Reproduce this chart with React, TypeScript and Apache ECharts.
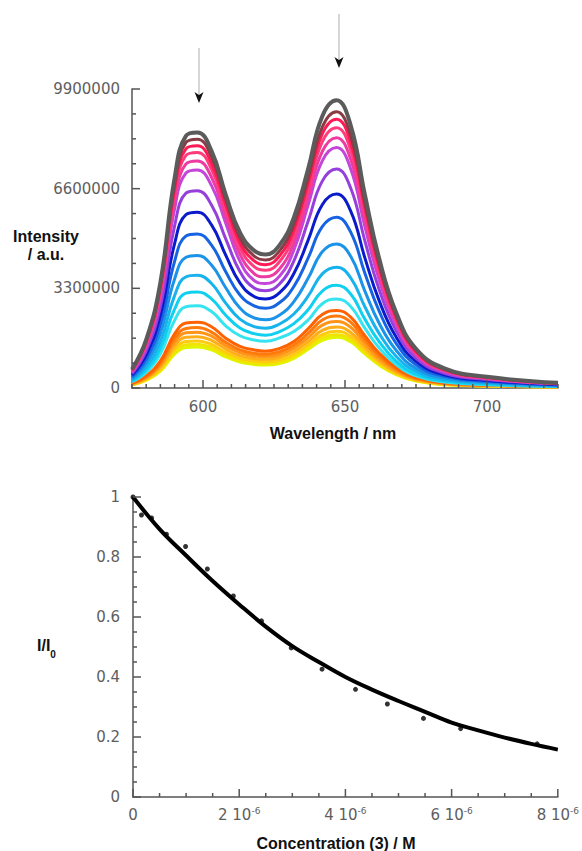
import React, { useEffect, useRef } from "react";
import * as echarts from "echarts";

// ---------- Top chart: emission spectra (intensity in millions, a.u.) ----------
const WAVELENGTHS = [575, 580, 585, 590, 594, 598, 603, 608, 613, 618, 622, 627, 632, 637, 642, 647, 652, 657, 662, 668, 675, 685, 700, 725];
const X_MAJOR = [600, 650, 700];

const S01 = [0.62, 1.6, 3.5, 6.95, 8.35, 8.46, 7.85, 6.4, 5.15, 4.55, 4.42, 4.74, 5.65, 7.25, 9.0, 9.53, 8.7, 6.4, 4.3, 2.5, 1.3, 0.65, 0.37, 0.17];
const S02 = [0.6, 1.56, 3.41, 6.77, 8.13, 8.24, 7.65, 6.24, 4.98, 4.37, 4.24, 4.55, 5.42, 6.96, 8.64, 9.15, 8.35, 6.14, 4.13, 2.4, 1.25, 0.62, 0.36, 0.16];
const S03 = [0.59, 1.52, 3.32, 6.59, 7.92, 8.02, 7.44, 6.07, 4.81, 4.21, 4.08, 4.38, 5.25, 6.77, 8.41, 8.9, 8.13, 5.98, 4.02, 2.34, 1.21, 0.61, 0.35, 0.16];
const S04 = [0.57, 1.48, 3.23, 6.41, 7.7, 7.8, 7.24, 5.91, 4.64, 4.02, 3.9, 4.19, 5.05, 6.56, 8.15, 8.62, 7.87, 5.79, 3.89, 2.26, 1.18, 0.59, 0.33, 0.15];
const S05 = [0.55, 1.42, 3.11, 6.18, 7.42, 7.52, 6.98, 5.69, 4.43, 3.79, 3.68, 3.95, 4.81, 6.31, 7.83, 8.29, 7.57, 5.57, 3.74, 2.18, 1.13, 0.57, 0.32, 0.15];
const S06 = [0.53, 1.36, 2.99, 5.93, 7.12, 7.22, 6.7, 5.46, 4.2, 3.56, 3.46, 3.71, 4.57, 6.05, 7.52, 7.96, 7.26, 5.34, 3.59, 2.09, 1.09, 0.54, 0.31, 0.14];
const S07 = [0.48, 1.24, 2.7, 5.37, 6.45, 6.53, 6.06, 4.94, 3.86, 3.31, 3.22, 3.45, 4.21, 5.52, 6.85, 7.25, 6.62, 4.87, 3.27, 1.9, 0.99, 0.49, 0.28, 0.13];
const S08 = [0.43, 1.1, 2.41, 4.78, 5.74, 5.82, 5.4, 4.4, 3.48, 3.03, 2.95, 3.16, 3.79, 4.89, 6.07, 6.42, 5.86, 4.31, 2.9, 1.69, 0.88, 0.44, 0.25, 0.11];
const S09 = [0.37, 0.96, 2.11, 4.19, 5.03, 5.1, 4.73, 3.85, 3.08, 2.72, 2.64, 2.83, 3.36, 4.3, 5.34, 5.65, 5.16, 3.8, 2.55, 1.48, 0.77, 0.39, 0.22, 0.1];
const S10 = [0.32, 0.83, 1.82, 3.61, 4.33, 4.39, 4.07, 3.32, 2.65, 2.32, 2.26, 2.42, 2.86, 3.63, 4.51, 4.77, 4.36, 3.21, 2.15, 1.25, 0.65, 0.33, 0.19, 0.09];
const S11 = [0.27, 0.71, 1.54, 3.06, 3.68, 3.73, 3.46, 2.81, 2.28, 2.03, 1.98, 2.12, 2.45, 3.04, 3.78, 4.0, 3.65, 2.69, 1.81, 1.05, 0.55, 0.27, 0.16, 0.07];
const S12 = [0.23, 0.6, 1.32, 2.61, 3.14, 3.18, 2.95, 2.41, 1.99, 1.8, 1.75, 1.87, 2.13, 2.59, 3.21, 3.4, 3.11, 2.28, 1.54, 0.89, 0.46, 0.23, 0.13, 0.06];
const S13 = [0.2, 0.52, 1.13, 2.24, 2.69, 2.72, 2.53, 2.06, 1.73, 1.59, 1.55, 1.66, 1.87, 2.25, 2.79, 2.95, 2.7, 1.98, 1.33, 0.78, 0.4, 0.2, 0.11, 0.05];
const S14 = [0.16, 0.41, 0.9, 1.79, 2.15, 2.18, 2.03, 1.65, 1.38, 1.26, 1.22, 1.31, 1.54, 1.96, 2.43, 2.57, 2.35, 1.73, 1.16, 0.68, 0.35, 0.18, 0.1, 0.05];
const S15 = [0.15, 0.38, 0.83, 1.64, 1.97, 2.0, 1.85, 1.51, 1.26, 1.15, 1.12, 1.2, 1.42, 1.81, 2.25, 2.38, 2.18, 1.6, 1.08, 0.63, 0.33, 0.16, 0.09, 0.04];
const S16 = [0.14, 0.35, 0.77, 1.52, 1.83, 1.85, 1.72, 1.4, 1.17, 1.07, 1.04, 1.11, 1.32, 1.67, 2.08, 2.2, 2.01, 1.48, 0.99, 0.58, 0.3, 0.15, 0.09, 0.04];
const S17 = [0.12, 0.32, 0.7, 1.4, 1.68, 1.7, 1.58, 1.29, 1.07, 0.98, 0.95, 1.02, 1.21, 1.54, 1.91, 2.02, 1.84, 1.36, 0.91, 0.53, 0.28, 0.14, 0.08, 0.04];
const S18 = [0.11, 0.29, 0.64, 1.28, 1.54, 1.56, 1.44, 1.18, 0.98, 0.9, 0.87, 0.93, 1.11, 1.43, 1.77, 1.88, 1.71, 1.26, 0.85, 0.49, 0.26, 0.13, 0.07, 0.03];
const S19 = [0.11, 0.27, 0.6, 1.19, 1.43, 1.45, 1.34, 1.09, 0.91, 0.83, 0.81, 0.86, 1.04, 1.34, 1.67, 1.76, 1.61, 1.18, 0.8, 0.46, 0.24, 0.12, 0.07, 0.03];
const S20 = [0.1, 0.26, 0.56, 1.12, 1.34, 1.36, 1.26, 1.03, 0.86, 0.78, 0.76, 0.81, 0.98, 1.28, 1.58, 1.68, 1.53, 1.13, 0.76, 0.44, 0.23, 0.11, 0.07, 0.03];

const SPECTRA = [S01, S02, S03, S04, S05, S06, S07, S08, S09, S10, S11, S12, S13, S14, S15, S16, S17, S18, S19, S20];
const SPECTRA_COLORS = [
  "#5b5b5b", "#8a3c44", "#ff1a55", "#ff3c7c", "#ec3ca2", "#c446d8", "#9640dc", "#0b1bcc", "#1664e2", "#1b93e8",
  "#18b3ec", "#10d0ef", "#36e4ef", "#ff6200", "#ff7a0a", "#ff9418", "#ffae1a", "#ffcb10", "#f0e400", "#e0f500",
];
const UNIT = 1e6;

// ---------- Bottom chart: I/I0 vs concentration (µM, i.e. 10^-6 M) ----------
const CONC_POINTS = [0, 0.16, 0.35, 0.63, 0.99, 1.4, 1.89, 2.42, 2.98, 3.56, 4.19, 4.79, 5.47, 6.17, 7.61];
const RATIO_POINTS = [1.0, 0.94, 0.93, 0.876, 0.835, 0.76, 0.67, 0.587, 0.497, 0.426, 0.359, 0.31, 0.262, 0.228, 0.177];
const FIT_CONC = [0, 0.5, 1, 1.5, 2, 2.5, 3, 3.5, 4, 4.5, 5, 5.5, 6, 6.5, 7, 7.5, 8];
const FIT_RATIO = [1.0, 0.893, 0.805, 0.72, 0.642, 0.568, 0.503, 0.45, 0.4, 0.358, 0.32, 0.284, 0.248, 0.222, 0.198, 0.177, 0.158];

// ---------- Axis tick positions (axis values; every `majorEvery`-th one is a long tick) ----------
function tickList(min: number, step: number, count: number, majorEvery: number, offset = 0) {
  const out: { v: number; major: boolean }[] = [];
  for (let i = 0; i < count; i++) {
    out.push({ v: +(min + i * step).toFixed(6), major: (i + offset) % majorEvery === 0 });
  }
  return out;
}
const TOP_X_TICKS = tickList(575, 5, 31, 10, 5);      // 575 … 725, long at 600/650/700
const TOP_Y_TICKS = tickList(0, 825000, 13, 4);       // 0 … 9 900 000
const BOT_X_TICKS = tickList(0, 0.5, 17, 4);          // 0 … 8 (×10^-6)
const BOT_Y_TICKS = tickList(0, 0.05, 21, 4);         // 0 … 1

const AXIS_COLOR = "#555";
const LABEL_COLOR = "#5e5e5e";
const LABEL_FONT = "DejaVu Sans";
const TITLE_FONT = 'bold 16px "Liberation Sans", Arial, sans-serif';

export default function App() {
  const ref = useRef<HTMLDivElement>(null);

  useEffect(() => {
    if (!ref.current) return;
    const chart = echarts.init(ref.current, undefined, { renderer: "svg" });

    const labelBase = { color: LABEL_COLOR, fontFamily: LABEL_FONT, fontSize: 15 };
    const axisLine = { show: true, onZero: false, lineStyle: { color: AXIS_COLOR, width: 1.5 } };
    const noTick = { show: false };
    const noSplit = { show: false };

    const spectraSeries = SPECTRA.map((s, i) => ({
      type: "line",
      name: "c" + (i + 1),
      xAxisIndex: 0,
      yAxisIndex: 0,
      data: WAVELENGTHS.map((w, j) => [w, s[j] * UNIT]),
      smooth: 0.45,
      showSymbol: false,
      lineStyle: { color: SPECTRA_COLORS[i], width: i === 0 ? 4 : 3 },
    })).reverse();

    const option: any = {
      animation: false,
      grid: [
        { left: 132, top: 89, width: 426, height: 299 },
        { left: 133, top: 497, width: 426, height: 300 },
      ],
      xAxis: [
        {
          gridIndex: 0, type: "value", min: 575, max: 725,
          axisLine, axisTick: noTick,
          axisLabel: { ...labelBase, customValues: X_MAJOR, margin: 11 }, splitLine: noSplit,
        },
        {
          gridIndex: 1, type: "value", min: 0, max: 8, interval: 2,
          axisLine, axisTick: noTick,
          axisLabel: {
            ...labelBase, margin: 9,
            formatter: (v: number) => (v === 0 ? "{n|0}" : `{n|${v} 10}{s|-6}`),
            rich: {
              n: { color: LABEL_COLOR, fontFamily: LABEL_FONT, fontSize: 15, lineHeight: 18 },
              s: { color: LABEL_COLOR, fontFamily: LABEL_FONT, fontSize: 9, lineHeight: 10, verticalAlign: "top" },
            },
          },
          splitLine: noSplit,
        },
      ],
      yAxis: [
        {
          gridIndex: 0, type: "value", min: 0, max: 9900000, interval: 3300000,
          axisLine, axisTick: noTick,
          axisLabel: { ...labelBase, margin: 12, formatter: (v: number) => String(Math.round(v)) },
          splitLine: noSplit,
        },
        {
          gridIndex: 1, type: "value", min: 0, max: 1, interval: 0.2,
          axisLine, axisTick: noTick,
          axisLabel: { ...labelBase, margin: 13 }, splitLine: noSplit,
        },
      ],
      series: [
        ...spectraSeries,
        {
          type: "line", name: "fit", xAxisIndex: 1, yAxisIndex: 1,
          data: FIT_CONC.map((c, i) => [c, FIT_RATIO[i]]),
          smooth: 0.4, showSymbol: false,
          lineStyle: { color: "#000", width: 4 },
        },
        {
          type: "scatter", name: "data", xAxisIndex: 1, yAxisIndex: 1,
          data: CONC_POINTS.map((c, i) => [c, RATIO_POINTS[i]]),
          symbol: "circle", symbolSize: 5,
          itemStyle: { color: "#000" }, z: 4,
        },
      ],
    };

    chart.setOption(option);

    const baseGraphics: any[] = [
      {
        type: "text", x: 46, y: 245,
        style: { text: "Intensity\n/ a.u.", font: TITLE_FONT, fill: "#111", textAlign: "center", textVerticalAlign: "middle", lineHeight: 18 },
      },
      {
        type: "text", x: 333, y: 433,
        style: { text: "Wavelength / nm", font: TITLE_FONT, fill: "#111", textAlign: "center", textVerticalAlign: "middle" },
      },
      {
        type: "text", x: 336, y: 843,
        style: { text: "Concentration (3) / M", font: TITLE_FONT, fill: "#111", textAlign: "center", textVerticalAlign: "middle" },
      },
      {
        type: "text", x: 37, y: 648,
        style: {
          text: "{a|I/I}{b|0}", fill: "#111", textVerticalAlign: "middle",
          rich: {
            a: { font: TITLE_FONT, fill: "#111", lineHeight: 22, verticalAlign: "top" },
            b: { font: 'bold 10px "Liberation Sans", Arial, sans-serif', fill: "#111", lineHeight: 22, verticalAlign: "bottom" },
          },
        },
      },
      { type: "line", shape: { x1: 199, y1: 48, x2: 199, y2: 95 }, style: { stroke: "#c8c8c8", lineWidth: 1.5 } },
      { type: "polygon", shape: { points: [[194.5, 92], [199, 103], [203.5, 92], [199, 95]] }, style: { fill: "#111" } },
      { type: "line", shape: { x1: 339, y1: 14, x2: 339, y2: 60 }, style: { stroke: "#c8c8c8", lineWidth: 1.5 } },
      { type: "polygon", shape: { points: [[334.5, 57], [339, 68], [343.5, 57], [339, 60]] }, style: { fill: "#111" } },
    ];

    // Inside ticks, positioned through the chart's own axis scales.
    const toPixel = (axisIndex: number, pt: number[]): number[] | null => {
      let p: any = null;
      try {
        p = chart.convertToPixel({ xAxisIndex: axisIndex, yAxisIndex: axisIndex } as any, pt);
      } catch (e) {
        p = null;
      }
      if (!p || !isFinite(p[0]) || !isFinite(p[1])) {
        try {
          const px = chart.convertToPixel({ xAxisIndex: axisIndex } as any, pt[0]) as any;
          const py = chart.convertToPixel({ yAxisIndex: axisIndex } as any, pt[1]) as any;
          if (isFinite(px) && isFinite(py)) p = [px, py];
        } catch (e) {
          p = null;
        }
      }
      return p && isFinite(p[0]) && isFinite(p[1]) ? p : null;
    };

    const tickEls: any[] = [];
    const addTicks = (axisIndex: number, ticks: { v: number; major: boolean }[], dir: "x" | "y", fixed: number) => {
      ticks.forEach((t) => {
        const p = toPixel(axisIndex, dir === "x" ? [t.v, fixed] : [fixed, t.v]);
        if (!p) return;
        const len = t.major ? 8 : 4;
        const shape = dir === "x"
          ? { x1: p[0], y1: p[1], x2: p[0], y2: p[1] - len }
          : { x1: p[0], y1: p[1], x2: p[0] + len, y2: p[1] };
        tickEls.push({ type: "line", shape, z: 100, style: { stroke: AXIS_COLOR, lineWidth: 1.5 } });
      });
    };
    addTicks(0, TOP_X_TICKS, "x", 0);
    addTicks(0, TOP_Y_TICKS, "y", 575);
    addTicks(1, BOT_X_TICKS, "x", 0);
    addTicks(1, BOT_Y_TICKS, "y", 0);

    chart.setOption({ graphic: [...baseGraphics, ...tickEls] });
    return () => chart.dispose();
  }, []);

  return (
    <div
      ref={ref}
      style={{ position: "absolute", left: 0, top: 0, width: 582, height: 851, background: "#fff" }}
    />
  );
}
